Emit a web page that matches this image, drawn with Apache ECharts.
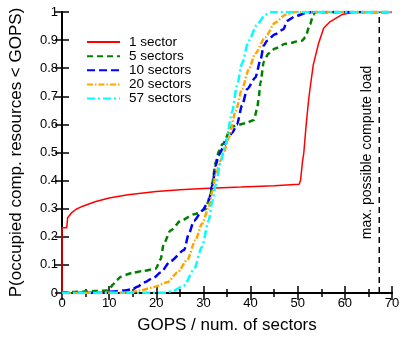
<!DOCTYPE html>
<html>
<head>
<meta charset="utf-8">
<script src="https://cdn.jsdelivr.net/npm/echarts@6/dist/echarts.min.js"></script>
<style>
html,body{margin:0;padding:0;background:#fff;}
#c{width:409px;height:339px;}
</style>
</head>
<body>
<div id="c"></div>
<script>
// ---- data ----
const seriesNames = ["1 sector", "5 sectors", "10 sectors", "20 sectors", "57 sectors"];

const redX = [0, 0, 1, 1.2, 2, 3, 4.4, 7, 10, 14, 20, 25, 30, 38, 45, 50.3, 50.6, 51, 51.3, 51.8, 52.3, 52.6, 53.3, 54.4, 55.5, 56.9, 59.3, 62, 70];
const redY = [0, 0.232, 0.232, 0.268, 0.285, 0.298, 0.309, 0.325, 0.338, 0.35, 0.361, 0.367, 0.372, 0.377, 0.382, 0.387, 0.40, 0.466, 0.50, 0.60, 0.685, 0.726, 0.812, 0.887, 0.942, 0.966, 0.99, 1, 1];

const greenX = [0, 5, 9.5, 10, 10.8, 11.5, 12.5, 13.5, 15, 17.4, 19.9, 20.9, 21.6, 23, 25.2, 28, 30.4, 31.5, 31.9, 32.6, 33.3, 34, 36.1, 38.9, 40.7, 41.4, 41.7, 42.1, 42.8, 43.8, 45.2, 47.4, 50.9, 51.6, 52.6, 53.3, 53.7, 70];
const greenY = [0.002, 0.005, 0.009, 0.012, 0.03, 0.045, 0.058, 0.065, 0.072, 0.079, 0.087, 0.119, 0.176, 0.222, 0.257, 0.28, 0.298, 0.349, 0.395, 0.465, 0.505, 0.529, 0.593, 0.604, 0.616, 0.656, 0.691, 0.748, 0.823, 0.852, 0.870, 0.887, 0.898, 0.910, 0.956, 0.99, 1, 1];

const blueX = [0, 8, 10.7, 13, 14.9, 16, 17.4, 19.5, 20.9, 23, 25.9, 26.9, 28, 29.7, 31.1, 31.9, 32.6, 33.2, 34.3, 35, 36.1, 37.1, 38.2, 39.3, 41, 42.1, 42.8, 43.5, 45.2, 47, 47.7, 49.5, 51.9, 53, 70];
const blueY = [0, 0.001, 0.005, 0.009, 0.013, 0.022, 0.038, 0.055, 0.073, 0.113, 0.153, 0.211, 0.257, 0.292, 0.326, 0.384, 0.453, 0.49, 0.52, 0.545, 0.570, 0.599, 0.668, 0.726, 0.766, 0.829, 0.881, 0.898, 0.921, 0.939, 0.968, 0.985, 0.997, 1, 1];

const orangeX = [0, 14, 16.7, 19.5, 22.3, 24.5, 26.6, 28.3, 29.7, 31.1, 31.9, 32.6, 33.6, 34.3, 35.4, 36.8, 38.2, 39.6, 41, 43.1, 45.2, 47.4, 49.5, 70];
const orangeY = [0, 0.001, 0.009, 0.021, 0.038, 0.073, 0.119, 0.188, 0.246, 0.303, 0.361, 0.419, 0.47, 0.50, 0.553, 0.645, 0.726, 0.795, 0.852, 0.910, 0.962, 0.99, 1, 1];

const cyanX = [0, 22, 23.7, 25.9, 28, 29.7, 31.1, 31.9, 32.6, 33.6, 34.7, 36.1, 37.1, 38.2, 39.6, 41.4, 43.1, 44.2, 70];
const cyanY = [0, 0.001, 0.009, 0.027, 0.084, 0.165, 0.257, 0.326, 0.384, 0.465, 0.53, 0.645, 0.737, 0.818, 0.898, 0.956, 0.99, 1, 1];

const maxLoadX = 67.3;
const maxLoadLabel = "max. possible compute load";
const xTitle = "GOPS / num. of sectors";
const yTitle = "P(occupied comp. resources < GOPS)";

// ---- build ----
function pairs(xs, ys) { return xs.map((x, i) => [x, ys[i]]); }
const FONT = "Liberation Sans";

const chart = echarts.init(document.getElementById('c'), null, {renderer: 'canvas'});

function mkSeries(name, xs, ys, color, width, dash, smooth) {
  return {
    name: name, type: 'line', data: pairs(xs, ys), symbol: 'none',
    smooth: smooth ? 0.25 : false, smoothMonotone: smooth ? 'x' : undefined,
    lineStyle: {color: color, width: width, type: dash},
    itemStyle: {color: color},
    animation: false, z: 3
  };
}

const series = [
  mkSeries(seriesNames[0], redX, redY, '#ff0000', 1.5, 'solid', false),
  mkSeries(seriesNames[1], greenX, greenY, '#008000', 2.5, [6, 4], true),
  mkSeries(seriesNames[2], blueX, blueY, '#0000ff', 2.5, [8, 4], true),
  mkSeries(seriesNames[3], orangeX, orangeY, '#ffa500', 2.5, [6, 2, 1.5, 2], true),
  mkSeries(seriesNames[4], cyanX, cyanY, '#00ffff', 2.5, [8, 3, 2, 3], true),
  {
    name: 'maxload', type: 'line', symbol: 'none', data: [[maxLoadX, 0], [maxLoadX, 1]],
    lineStyle: {color: '#000', width: 1.5, type: [6, 4]}, animation: false, z: 2
  }
];

const axisLine = {show: true, lineStyle: {color: '#000', width: 2}};

chart.setOption({
  animation: false,
  backgroundColor: '#fff',
  textStyle: {fontFamily: FONT},
  grid: {left: 61, right: 17, top: 12, bottom: 38, containLabel: false},
  legend: {
    data: seriesNames, orient: 'vertical', left: 86, top: 35, padding: 0,
    itemWidth: 33, itemHeight: 14, itemGap: 0.15,
    itemStyle: {opacity: 0},
    textStyle: {fontFamily: FONT, fontSize: 13.5, color: '#000', padding: [0, 0, 0, 4]},
    selectedMode: false
  },
  xAxis: [
    {
      type: 'value', min: 0, max: 70, interval: 10, position: 'bottom',
      name: xTitle, nameLocation: 'middle', nameGap: 24,
      nameTextStyle: {fontFamily: FONT, fontSize: 17, color: '#000'},
      axisLine: axisLine,
      axisTick: {show: true, inside: true, length: 7, lineStyle: {color: '#000', width: 1.5}},
      minorTick: {show: true, splitNumber: 2, length: 4, lineStyle: {color: '#000', width: 1.5}},
      axisLabel: {fontFamily: FONT, fontSize: 13, color: '#000', margin: 4},
      splitLine: {show: false}
    },
    {
      type: 'value', min: 0, max: 70, interval: 10, position: 'top',
      axisLine: axisLine,
      axisTick: {show: true, inside: true, length: 7, lineStyle: {color: '#000', width: 1.5}},
      minorTick: {show: true, splitNumber: 2, length: 4, lineStyle: {color: '#000', width: 1.5}},
      axisLabel: {show: false}, splitLine: {show: false}
    }
  ],
  yAxis: [
    {
      type: 'value', min: 0, max: 1, interval: 0.1, position: 'left',
      name: yTitle, nameLocation: 'middle', nameGap: 37,
      nameTextStyle: {fontFamily: FONT, fontSize: 17, color: '#000'},
      axisLine: axisLine,
      axisTick: {show: true, inside: true, length: 7, lineStyle: {color: '#000', width: 1.5}},
      axisLabel: {fontFamily: FONT, fontSize: 13, color: '#000', margin: 4},
      splitLine: {show: false}
    },
    {
      type: 'value', min: 0, max: 1, interval: 0.1, position: 'right',
      axisLine: axisLine,
      axisTick: {show: true, inside: true, length: 7, lineStyle: {color: '#000', width: 1.5}},
      axisLabel: {show: false}, splitLine: {show: false}
    }
  ],
  series: series
});

const p = chart.convertToPixel({xAxisIndex: 0, yAxisIndex: 0}, [64.7, 0.5]);
chart.setOption({
  graphic: [{
    type: 'text', x: p[0], y: p[1], rotation: Math.PI / 2,
    style: {text: maxLoadLabel, font: '14px "Liberation Sans"', fill: '#000', align: 'center', verticalAlign: 'middle'}
  }]
});
</script>
</body>
</html>
